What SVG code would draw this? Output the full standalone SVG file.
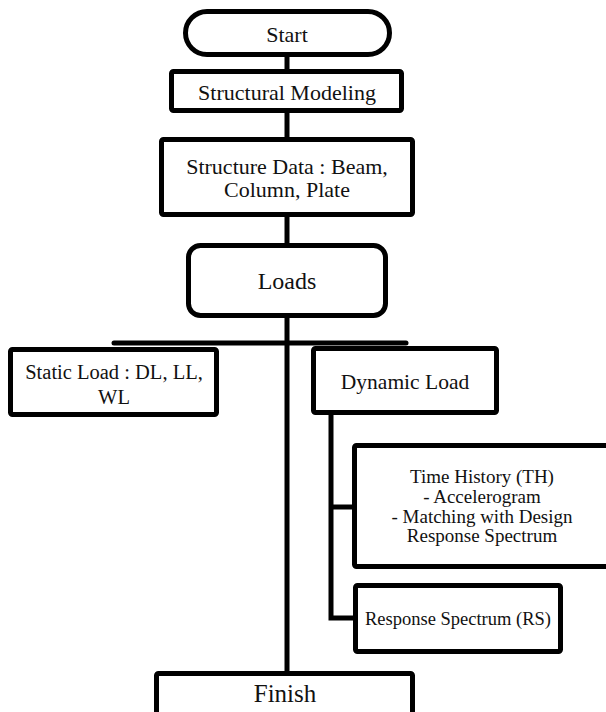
<svg xmlns="http://www.w3.org/2000/svg" width="606" height="712" viewBox="0 0 606 712">
<style>
.box{fill:#fff;stroke:#000;stroke-width:5;stroke-linejoin:round}
.ln{fill:none;stroke:#000;stroke-width:5}
text{font-family:"Liberation Serif","Times New Roman",serif;fill:#111;text-anchor:middle}
</style>
<rect width="606" height="712" fill="#fff"/>
<g id="connectors">
<line class="ln" x1="287" y1="55" x2="287" y2="71"/>
<line class="ln" x1="287" y1="111" x2="287" y2="139"/>
<line class="ln" x1="287" y1="215" x2="287" y2="245"/>
<line class="ln" x1="287" y1="316" x2="287" y2="673"/>
<line class="ln" x1="114" y1="343" x2="406" y2="343" stroke-width="6" stroke-linecap="round"/>
<path class="ln" d="M331 413 V618 H355"/>
<line class="ln" x1="331" y1="507" x2="355" y2="507"/>
</g>
<g id="start">
<rect class="box" x="185.5" y="11.5" width="204" height="43" rx="21.5"/>
<text x="287" y="42" font-size="22">Start</text>
</g>
<g id="structural-modeling">
<rect class="box" x="171.5" y="71.5" width="230" height="39" rx="2"/>
<text x="287" y="100" font-size="22">Structural Modeling</text>
</g>
<g id="structure-data">
<rect class="box" x="161.5" y="139.5" width="251" height="75" rx="2"/>
<text x="287" y="174" font-size="22">Structure Data : Beam,</text>
<text x="287" y="197" font-size="22">Column, Plate</text>
</g>
<g id="loads">
<rect class="box" x="188.5" y="245.5" width="197" height="70" rx="12"/>
<text x="287" y="289" font-size="24">Loads</text>
</g>
<g id="static-load">
<rect class="box" x="10.5" y="349.5" width="206" height="65" rx="2"/>
<text x="114" y="379" font-size="20.5">Static Load : DL, LL,</text>
<text x="114" y="404" font-size="20.5">WL</text>
</g>
<g id="dynamic-load">
<rect class="box" x="313.5" y="348.5" width="183" height="64" rx="2"/>
<text x="405" y="389" font-size="21.5">Dynamic Load</text>
</g>
<g id="time-history">
<rect class="box" x="354.5" y="445.5" width="262" height="121" rx="2"/>
<text x="482" y="483" font-size="19">Time History (TH)</text>
<text x="482" y="503" font-size="19">- Accelerogram</text>
<text x="482" y="523" font-size="19">- Matching with Design</text>
<text x="482" y="542" font-size="19">Response Spectrum</text>
</g>
<g id="response-spectrum">
<rect class="box" x="355.5" y="585.5" width="205" height="66" rx="2"/>
<text x="458" y="625" font-size="18.5">Response Spectrum (RS)</text>
</g>
<g id="finish">
<rect class="box" x="156.5" y="673.5" width="256" height="45" rx="2"/>
<text x="285" y="702" font-size="25">Finish</text>
</g>
</svg>
